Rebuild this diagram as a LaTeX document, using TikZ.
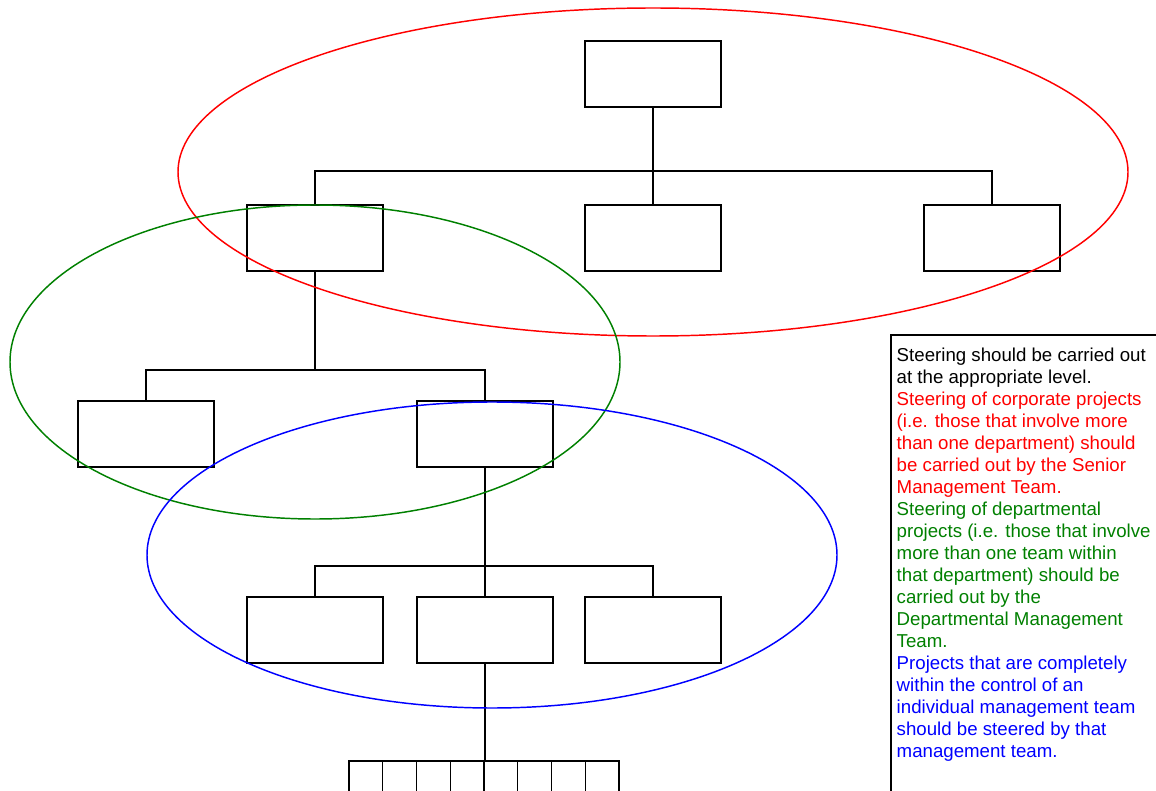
\documentclass[tikz,border=0pt]{standalone}
\usepackage{fontspec}
\setmainfont{Liberation Sans}
\usetikzlibrary{positioning}

\definecolor{seniorred}{RGB}{255,0,0}
\definecolor{deptgreen}{RGB}{0,128,0}
\definecolor{teamblue}{RGB}{0,0,255}

\begin{document}
\begin{tikzpicture}[x=0.75pt, y=-0.75pt, line width=1.1pt,
    unit/.style={draw, minimum width=102pt, minimum height=49.5pt, inner sep=0pt},
    note/.style={align=left, anchor=north west, inner sep=0pt,
      font=\fontsize{14}{16.5}\selectfont}]

  \useasboundingbox (0,0) rectangle (1156,791);
  \clip (0,0) rectangle (1156,791);

  % levels of the organisation
  \node[unit] (ceo) at (653,74)  {};
  \node[unit] (d1)  at (315,238) {};
  \node[unit] (d2)  at (653,238) {};
  \node[unit] (d3)  at (992,238) {};
  \node[unit] (t1)  at (146,434) {};
  \node[unit] (t2)  at (485,434) {};
  \node[unit] (m1)  at (315,630) {};
  \node[unit] (m2)  at (485,630) {};
  \node[unit] (m3)  at (653,630) {};

  \coordinate (bus1) at (653,171);
  \coordinate (bus2) at (315,370);
  \coordinate (bus3) at (485,566);
  \coordinate (bus4) at (485,761);

  \draw (ceo.south) -- (d2.north);
  \draw (d1.north) |- (bus1) -| (d3.north);
  \draw (d1.south) -- (bus2);
  \draw (t1.north) |- (bus2) -| (t2.north);
  \draw (t2.south) -- (m2.north);
  \draw (m1.north) |- (bus3) -| (m3.north);
  \draw (m2.south) -- (bus4);

  % the teams below
  \foreach \i in {0,...,8} {
    \coordinate (c\i) at ({349+33.75*\i},800);
  }
  \draw (c0) |- (bus4) -| (c8);
  \foreach \i in {1,...,7} {
    \draw (c\i) -- (c\i |- bus4);
  }

  % steering levels
  \draw[seniorred] (653,172) ellipse [x radius=475, y radius=164];
  \draw[deptgreen] (315,362) ellipse [x radius=305, y radius=157];
  \draw[teamblue]  (492,555) ellipse [x radius=345, y radius=153];

  \draw (891,800) -- (891,335) -- (1160,335);
  \node[note] (txt) at (896,347) {%
    Steering should be carried out\\
    at the appropriate level.\\
    \color{seniorred}Steering of corporate projects\\
    \color{seniorred}(i.e. those that involve more\\
    \color{seniorred}than one department) should\\
    \color{seniorred}be carried out by the Senior\\
    \color{seniorred}Management Team.\\
    \color{deptgreen}Steering of departmental\\
    \color{deptgreen}projects (i.e. those that involve\\
    \color{deptgreen}more than one team within\\
    \color{deptgreen}that department) should be\\
    \color{deptgreen}carried out by the\\
    \color{deptgreen}Departmental Management\\
    \color{deptgreen}Team.\\
    \color{teamblue}Projects that are completely\\
    \color{teamblue}within the control of an\\
    \color{teamblue}individual management team\\
    \color{teamblue}should be steered by that\\
    \color{teamblue}management team.};

\end{tikzpicture}
\end{document}
